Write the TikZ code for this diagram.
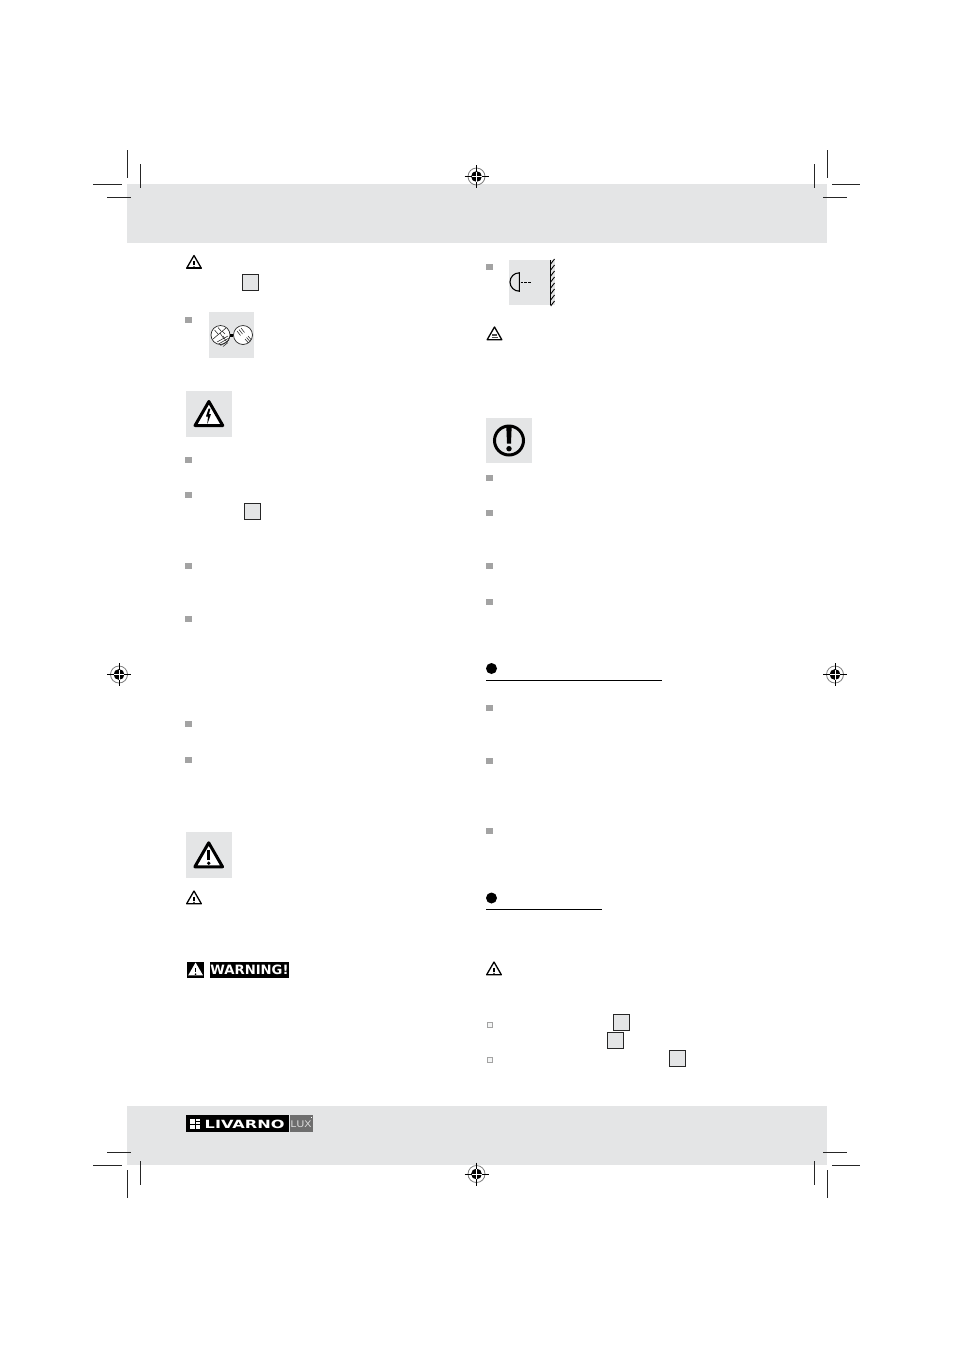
\documentclass[tikz,border=0pt]{standalone}
\usepackage{fontspec}
\setmainfont{Liberation Sans}
\newfontfamily\labelfont{DejaVu Sans}
\usetikzlibrary{positioning,shapes.geometric}
\definecolor{bandgray}{HTML}{E4E5E6}
\definecolor{bulletgray}{HTML}{A3A3A3}
\definecolor{luxgray}{HTML}{6E6E6E}
\begin{document}
\begin{tikzpicture}[
      x=1pt,y=-1pt,
      band/.style={
         rectangle,
         fill=bandgray,
         inner sep=0pt,
         minimum width=700pt,
         minimum height=59pt},
      iconbox/.style={
         rectangle,
         fill=bandgray,
         inner sep=0pt,
         minimum size=45.5pt},
      bullet/.style={
         rectangle,
         fill=bulletgray,
         inner sep=0pt,
         minimum size=6.5pt},
      openbullet/.style={
         rectangle,
         draw=bulletgray,
         fill=bandgray!40,
         line width=0.9pt,
         inner sep=0pt,
         minimum size=5pt},
      numberbox/.style={
         rectangle,
         draw=black!85,
         fill=bandgray,
         line width=0.9pt,
         inner sep=0pt,
         minimum size=16pt},
      bigtri/.style={
         regular polygon,
         regular polygon sides=3,
         draw=black,
         fill=white,
         line width=3pt,
         line join=round,
         inner sep=0pt,
         minimum size=32pt},
      smalltri/.style={
         regular polygon,
         regular polygon sides=3,
         draw=black,
         fill=white,
         line width=1.3pt,
         line join=round,
         inner sep=0pt,
         minimum size=17pt},
      bulb/.style={
         circle,
         draw=black!85,
         fill=white,
         line width=0.7pt,
         inner sep=0pt,
         minimum size=19pt},
      secdot/.style={
         circle,
         fill=black,
         inner sep=0pt,
         minimum size=11pt},
      blackbox/.style={
         rectangle,
         fill=black,
         inner sep=0pt,
         minimum height=16pt},
      crop/.style={line width=0.9pt,black!85}
      ]
      \useasboundingbox (0,0) rectangle (954,1350);
      \fill[white] (0,0) rectangle (954,1350);

      \node[band] (topband) at (477,213.5) {};
      \node[band] (botband) at (477,1135) {};

    % crop marks
    \foreach \a/\b/\c/\d in {%
      127.5/150/127.5/178, 140.5/164/140.5/188, 93/184/122/184, 107/197/131/197,
      827/150/827/178, 814/164/814/188, 832/184/860/184, 823/197/847/197,
      107/1152/131/1152, 93/1165/122/1165, 127.5/1170/127.5/1198, 140.5/1161/140.5/1185,
      823/1152/847/1152, 832/1165/860/1165, 827/1170/827/1198, 814/1161/814/1185}
       \draw[crop] (\a,\b) -- (\c,\d);

    % registration marks
    \foreach \i/\x/\y in {top/476.5/176.5,left/119/674.5,right/835/674.5,bottom/476.5/1174} {
       \node[circle,draw=black!50,line width=0.8pt,inner sep=0pt,minimum size=17pt] (reg\i) at (\x,\y) {};
       \fill[black] (\x,\y) circle (5.4);
       \draw[white,line width=0.6pt] (\x-5.5,\y) -- (\x+5.5,\y) (\x,\y-5.5) -- (\x,\y+5.5);
       \draw[black,line width=0.7pt] (\x-12,\y) -- (\x-5,\y) (\x+5,\y) -- (\x+12,\y) (\x,\y-11.5) -- (\x,\y-5) (\x,\y+5) -- (\x,\y+11.5);
    }

    % bullets
    \foreach \i/\x/\y in {a/188.5/320, b/188.5/460, c/188.5/495, d/188.5/566, e/188.5/619, f/188.5/724, g/188.5/760,
      h/489.5/267, j/489.5/478, k/489.5/513, l/489.5/566, m/489.5/602, n/489.5/708, o/489.5/761, p/489.5/831}
       \node[bullet] (b\i) at (\x,\y) {};
    \node[openbullet] (oa) at (489.5,1025) {};
    \node[openbullet] (ob) at (489.5,1060) {};

    % number boxes
    \foreach \i/\x/\y in {a/250.7/282.5, b/252.5/511.5, c/621.5/1022.5, d/615.6/1040.5, e/677.7/1058.5}
       \node[numberbox] (n\i) at (\x,\y) {};

    % icon backgrounds
    \node[iconbox] (bulbs) at (231.5,335) {};
    \node[iconbox] (shock) at (209,414) {};
    \node[iconbox] (caution) at (209,855) {};
    \node[iconbox] (lamp) at (532,282.5) {};
    \node[iconbox] (notice) at (509,440.5) {};

    % bulbs
    \node[bulb] (bulbl) at (220.5,335) {};
    \node[bulb] (bulbr) at (243,335) {};
    \draw[black,line width=3pt] (bulbl) -- (bulbr);
    \foreach \a/\b/\c/\d in {%
      213/339/226/328, 214.5/330/218/334, 218/327.5/221/331, 222/331/225/334, 217/342/228/336, 218.5/344/229/338,
      220.5/345.5/229/340, 223/346.5/228/342.5, 220/333/224/339, 223/336/226/341, 237/331/240.5/335.5, 239/329.5/242.5/334, 241/328/244.5/332.5,
      245/339/248.5/343, 246.5/337.5/250/341.5, 248/336/251/339.5}
       \draw[black!85,line width=0.55pt] (\a,\b) -- (\c,\d);

    % shock and caution triangles
    \node[bigtri] (shocktri) at (208.9,417.5) {};
    \fill[black] (208.6,408.5) -- (210.4,408.5) -- (209,414) -- (211,414) -- (207.2,424.5) -- (208,416.5) -- (206,416.5) -- cycle;
    \node[bigtri] (cautiontri) at (208.7,858.8) {};
    \draw[black,line width=2.6pt] (208.7,850) -- (208.7,859.5);
    \fill[black] (208.7,863.2) circle (1.9);

    % small triangles
    \foreach \i/\x/\y in {a/194/264, c/194/899.5, d/494/970.5} {
       \node[smalltri] (tri\i) at (\x,\y) {};
       \draw[black,line width=1.1pt] (\x,\y-3) -- (\x,\y+1.2);
       \fill[black] (\x,\y+2.9) circle (0.8);
    }
    \draw[black,line width=1.8pt] (187,268.3) -- (201,268.3);
    \node[smalltri] (trib) at (494.5,335.5) {};
    \draw[black!70,line width=0.5pt] (492,334) -- (497,334) (492,335.7) -- (497,335.7) (491.5,337.4) -- (497.5,337.4);

    % lamp and wall
    \draw[black,line width=1.1pt,fill=bandgray] (519.3,291.2) arc[start angle=90,end angle=270,x radius=9.3,y radius=9.2] -- cycle;
    \draw[black,line width=0.9pt,dash pattern=on 2.6pt off 1.2pt] (520.5,282) -- (531.5,282);
    \draw[black,line width=1.2pt] (550.7,260) -- (550.7,305);
    \foreach \y in {266,272,278,284,290,296,302,308}
       \draw[black,line width=0.9pt] (550.7,\y-2) -- (554.5,\y-7);

    % notice
    \node[circle,draw=black,line width=3pt,inner sep=0pt,minimum size=29pt] (noticering) at (509,440.5) {};
    \fill[black] (506.3,426) -- (511.7,426) -- (511,443.5) -- (507,443.5) -- cycle;
    \fill[black] (509,448.7) circle (2.7);

    % section heads
    \node[secdot] (seca) at (491.5,668.5) {};
    \coordinate (seca1) at (486,680);
    \coordinate (seca2) at (662,680);
    \draw[black,line width=1pt] (seca1) -- (seca2);
    \node[secdot] (secb) at (491.5,898) {};
    \coordinate (secb1) at (486,909.5);
    \coordinate (secb2) at (602,909.5);
    \draw[black,line width=1pt] (secb1) -- (secb2);

    % warning label
    \node[blackbox,minimum width=17.5pt] (warnicon) at (195.6,970) {};
    \node[regular polygon,regular polygon sides=3,fill=white,inner sep=0pt,minimum size=17pt] (warntri) at (195.6,971) {};
    \draw[black,line width=1.2pt] (195.6,968) -- (195.6,972.2);
    \fill[black] (195.6,974.2) circle (0.9);
    \node[blackbox,minimum width=79pt] (warnbox) at (249.5,970) {};
    \node[text=white,inner sep=0pt,xscale=1.03] (warntxt) at (249.5,970) {\fontsize{12.8}{12.8}\labelfont\bfseries WARNING!};

    % logo
    \node[blackbox,minimum width=102.5pt,minimum height=16.7pt] (logo) at (237.3,1123.4) {};
    \node[rectangle,fill=luxgray,inner sep=0pt,minimum width=23.7pt,minimum height=16.7pt,right=0.7pt of logo] (luxbox) {};
    \foreach \a/\b/\c/\d in {190/1119/194.5/1123.5, 195.5/1119/197.5/1121, 198/1119/200/1121, 195.5/1121.5/200/1123.5,
      190/1124.5/194.5/1129, 195.5/1124.5/197.5/1129, 198/1124.5/200/1126.5, 198/1127/200/1129}
       \fill[white] (\a,\b) rectangle (\c,\d);
    \node[text=white,inner sep=0pt,xscale=1.43] (logotxt) at (244.7,1124.2) {\fontsize{11.3}{11.3}\labelfont\bfseries LIVARNO};
    \node[text=black!12,inner sep=0pt,xscale=1.1] (luxtxt) at (301,1124.5) {\fontsize{9.7}{9.7}\selectfont LUX};
    \fill[white] (310.6,1116.6) rectangle (311.6,1117.6);
    \end{tikzpicture}
\end{document}
